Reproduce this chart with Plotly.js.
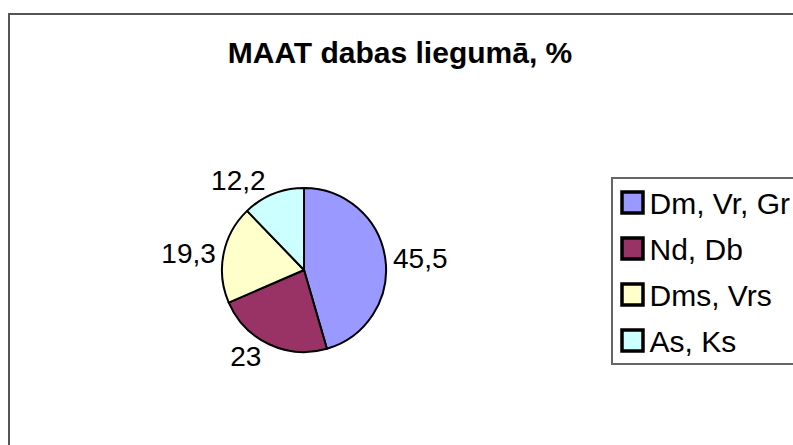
<!DOCTYPE html>
<html>
<head>
<meta charset="utf-8">
<script src="https://cdn.plot.ly/plotly-3.0.1.min.js"></script>
<style>
  html, body { margin: 0; padding: 0; background: #ffffff; overflow: hidden; }
  #chart { position: absolute; left: 0; top: 0; width: 793px; height: 445px; }
  #frame { position: absolute; left: 8px; top: 13px; width: 900px; height: 600px;
           border: 2px solid #555555; pointer-events: none; }
</style>
</head>
<body>
<div id="chart"></div>
<div id="frame"></div>
<script>
const categories = ["Dm, Vr, Gr", "Nd, Db", "Dms, Vrs", "As, Ks"];
const values = [45.5, 23, 19.3, 12.2];
const colors = ["#9999FF", "#993366", "#FFFFCC", "#CCFFFF"];
const titleText = "MAAT dabas liegumā, %";

const W = 793, H = 445;
const cx = 307.5, cy = 270, r = 83;
const FONT = "Liberation Sans, Arial, sans-serif";

const data = [{
  type: "pie",
  labels: categories,
  values: values,
  sort: false,
  direction: "clockwise",
  rotation: 0,
  marker: { colors: colors, line: { color: "#000000", width: 2 } },
  textinfo: "value",
  textposition: "outside",
  outsidetextfont: { family: FONT, size: 28, color: "#000000" },
  hoverinfo: "none",
  domain: { x: [(cx - r) / W, (cx + r) / W], y: [1 - (cy + r) / H, 1 - (cy - r) / H] }
}];

const layout = {
  width: W, height: H,
  margin: { l: 0, r: 0, t: 0, b: 0 },
  paper_bgcolor: "#ffffff",
  separators: ", ",
  showlegend: true,
  title: {
    text: "<b>" + titleText + "</b>",
    font: { family: FONT, size: 30, color: "#000000" },
    x: 400 / W, xanchor: "center",
    y: 1 - 52 / H, yanchor: "middle", yref: "container"
  },
  legend: {
    x: 611 / W, xanchor: "left",
    y: 1 - 177 / H, yanchor: "top",
    bordercolor: "#666666", borderwidth: 1.5,
    bgcolor: "#ffffff",
    font: { family: FONT, size: 30, color: "#000000" },
    traceorder: "normal"
  }
};

// legend box geometry as drawn in the reference
const LEG_LEFT = 611, LEG_TOP = 177, LEG_H = 186, ROW_GAP = 46, FIRST_ROW = 25.5,
      SWATCH_SCALE = 1.75, TEXT_X = 37;

Plotly.newPlot("chart", data, layout, { staticPlot: true, displayModeBar: false }).then(function (gd) {
  const leg = gd.querySelector(".legend");
  if (!leg) return;
  leg.setAttribute("transform", "translate(" + LEG_LEFT + "," + LEG_TOP + ")");
  const bg = leg.querySelector("rect.bg");
  if (bg) { bg.setAttribute("height", LEG_H); bg.setAttribute("width", 400); }
  leg.querySelectorAll("clipPath rect, defs rect").forEach(function (c) {
    c.setAttribute("width", 400); c.setAttribute("height", LEG_H);
  });
  const items = leg.querySelectorAll("g.traces");
  items.forEach(function (g, i) {
    const m = /translate\(\s*([-\d.e]+)[ ,]+([-\d.e]+)\s*\)/.exec(g.getAttribute("transform") || "");
    const x = m ? parseFloat(m[1]) : 1.5;
    g.setAttribute("transform", "translate(" + x + "," + (FIRST_ROW + i * ROW_GAP) + ")");
    g.querySelectorAll(".legendpoints path").forEach(function (p) {
      const t = p.getAttribute("transform") || "";
      p.setAttribute("transform", t + " scale(" + SWATCH_SCALE + ")");
    });
    g.querySelectorAll("text.legendtext").forEach(function (t) {
      t.setAttribute("x", TEXT_X);
      t.querySelectorAll("tspan[x]").forEach(function (s) { s.setAttribute("x", TEXT_X); });
    });
  });
});
</script>
</body>
</html>
